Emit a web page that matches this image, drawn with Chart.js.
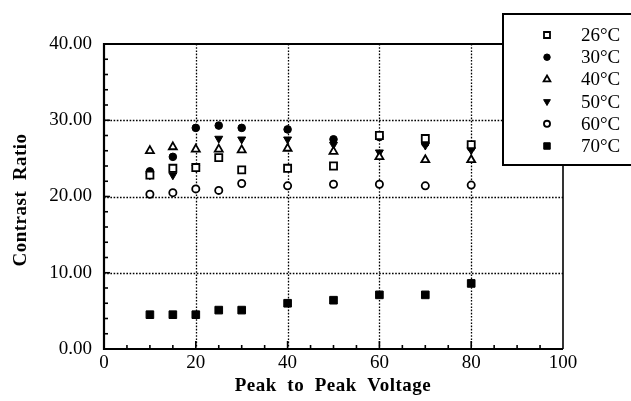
<!DOCTYPE html>
<html>
<head>
<meta charset="utf-8">
<script src="https://cdn.jsdelivr.net/npm/chart.js@4/dist/chart.umd.min.js"></script>
<style>
  html, body { margin: 0; padding: 0; background: #fff; }
  #wrap { position: relative; width: 631px; height: 401px; }
</style>
</head>
<body>
<div id="wrap"><canvas id="chart"></canvas></div>
<script>
// data
const voltage = [10, 15, 20, 25, 30, 40, 50, 60, 70, 80];
const temps = ["26°C", "30°C", "40°C", "50°C", "60°C", "70°C"];
const c26 = [22.8, 23.7, 23.8, 25.1, 23.5, 23.7, 24.0, 28.0, 27.6, 26.8];
const c30 = [23.3, 25.2, 29.0, 29.3, 29.0, 28.8, 27.5, 27.8, 27.0, 26.4];
const c40 = [26.0, 26.5, 26.2, 26.2, 26.1, 26.3, 25.9, 25.2, 24.8, 24.8];
const c50 = [22.8, 22.8, 23.8, 27.6, 27.5, 27.5, 26.8, 25.8, 26.7, 26.1];
const c60 = [20.3, 20.5, 21.0, 20.8, 21.7, 21.4, 21.6, 21.6, 21.4, 21.5];
const c70 = [4.5, 4.5, 4.5, 5.1, 5.1, 6.0, 6.4, 7.1, 7.1, 8.6];
const xTicks = [0, 20, 40, 60, 80, 100];
const yTicks = [0, 10, 20, 30, 40];

const SERIF = "'Liberation Serif', 'Times New Roman', serif";

// marker style per series: [pointStyle, radius, filled, rotation]
const markers = [
  ["rect", 5, false, 0],
  ["circle", 3.8, true, 0],
  ["triangle", 4.6, false, 0],
  ["triangle", 4.6, true, 180],
  ["circle", 3.6, false, 0],
  ["rect", 5.4, true, 0],
];

const seriesValues = [c26, c30, c40, c50, c60, c70];

const datasets = seriesValues.map((vals, i) => {
  const [style, r, filled, rot] = markers[i];
  return {
    label: temps[i],
    data: voltage.map((v, j) => ({ x: v, y: vals[j] })),
    pointStyle: style,
    pointRadius: r,
    pointRotation: rot,
    pointBackgroundColor: filled ? "#000" : "#fff",
    pointBorderColor: "#000",
    pointBorderWidth: filled ? 1 : 1.8,
    showLine: false,
  };
});

// frame, dotted grid, inward tick marks, axis titles, legend box
const decor = {
  id: "decor",
  beforeDatasetsDraw(chart) {
    const { ctx, chartArea: a, scales: { x, y } } = chart;
    ctx.save();
    // dotted grid
    ctx.strokeStyle = "#000";
    ctx.lineWidth = 1.3;
    ctx.setLineDash([1.6, 1.6]);
    [20, 40, 60, 80].forEach(v => {
      const px = Math.round(x.getPixelForValue(v)) + 0.5;
      ctx.beginPath(); ctx.moveTo(px, a.top); ctx.lineTo(px, a.bottom); ctx.stroke();
    });
    [10, 20, 30].forEach(v => {
      const py = Math.round(y.getPixelForValue(v)) + 0.5;
      ctx.beginPath(); ctx.moveTo(a.left, py); ctx.lineTo(a.right, py); ctx.stroke();
    });
    ctx.setLineDash([]);
    // minor/major ticks pointing inward
    ctx.lineWidth = 1.6;
    for (let v = 5; v < 100; v += 5) {
      const px = x.getPixelForValue(v);
      const len = v % 20 === 0 ? 8 : 4;
      ctx.beginPath(); ctx.moveTo(px, a.bottom); ctx.lineTo(px, a.bottom - len); ctx.stroke();
    }
    for (let v = 2; v < 40; v += 2) {
      const py = y.getPixelForValue(v);
      const len = v % 10 === 0 ? 6 : 4;
      ctx.beginPath(); ctx.moveTo(a.left, py); ctx.lineTo(a.left + len, py); ctx.stroke();
    }
    // frame
    ctx.lineWidth = 2.2;
    ctx.beginPath();
    ctx.moveTo(a.right, a.top); ctx.lineTo(a.left, a.top);
    ctx.lineTo(a.left, a.bottom); ctx.lineTo(a.right, a.bottom);
    ctx.stroke();
    ctx.lineWidth = 1.6;
    ctx.beginPath(); ctx.moveTo(a.right, a.top); ctx.lineTo(a.right, a.bottom); ctx.stroke();
    ctx.restore();
  },
  afterDraw(chart) {
    const { ctx } = chart;
    ctx.save();
    ctx.fillStyle = "#000";
    ctx.font = "bold 19px " + SERIF;
    ctx.letterSpacing = "0.5px";
    ctx.textAlign = "center";
    ctx.textBaseline = "middle";
    ctx.fillText("Peak  to  Peak  Voltage", 333, 386);
    ctx.translate(21, 200);
    ctx.rotate(-Math.PI / 2);
    ctx.fillText("Contrast  Ratio", 0, 0);
    ctx.restore();

    // legend box
    ctx.save();
    ctx.fillStyle = "#fff";
    ctx.fillRect(503, 14, 140, 151);
    ctx.strokeStyle = "#000";
    ctx.lineWidth = 2;
    ctx.strokeRect(503, 14, 140, 151);
    ctx.font = "19px " + SERIF;
    ctx.textAlign = "left";
    ctx.textBaseline = "middle";
    chart.data.datasets.forEach((ds, i) => {
      const yy = 35 + i * 22.2;
      ctx.fillStyle = ds.pointBackgroundColor;
      ctx.strokeStyle = "#000";
      ctx.lineWidth = ds.pointBorderWidth;
      Chart.helpers.drawPoint(ctx, {
        pointStyle: ds.pointStyle,
        rotation: ds.pointRotation,
        radius: ds.pointRadius * 0.85,
        borderWidth: ds.pointBorderWidth,
      }, 547, yy);
      ctx.fillStyle = "#000";
      ctx.fillText(ds.label, 581, yy + 1);
    });
    ctx.restore();
  },
};

new Chart(document.getElementById("chart"), {
  type: "scatter",
  data: { datasets },
  plugins: [decor],
  options: {
    responsive: true,
    maintainAspectRatio: false,
    animation: false,
    layout: { padding: { left: 0, top: 44, right: 68, bottom: 0 } },
    plugins: { legend: { display: false }, tooltip: { enabled: false } },
    scales: {
      x: {
        type: "linear",
        min: 0,
        max: 100,
        afterFit: s => { s.height = 52; },
        afterBuildTicks: s => { s.ticks = xTicks.map(v => ({ value: v })); },
        grid: { display: false, drawTicks: false },
        border: { display: false },
        ticks: { color: "#000", font: { family: SERIF, size: 19 }, padding: 3, maxRotation: 0 },
      },
      y: {
        type: "linear",
        min: 0,
        max: 40,
        afterFit: s => { s.width = 104; },
        afterBuildTicks: s => { s.ticks = yTicks.map(v => ({ value: v })); },
        grid: { display: false, drawTicks: false },
        border: { display: false },
        ticks: {
          color: "#000",
          font: { family: SERIF, size: 19 },
          padding: 12,
          callback: v => v.toFixed(2),
        },
      },
    },
  },
});
</script>
</body>
</html>
